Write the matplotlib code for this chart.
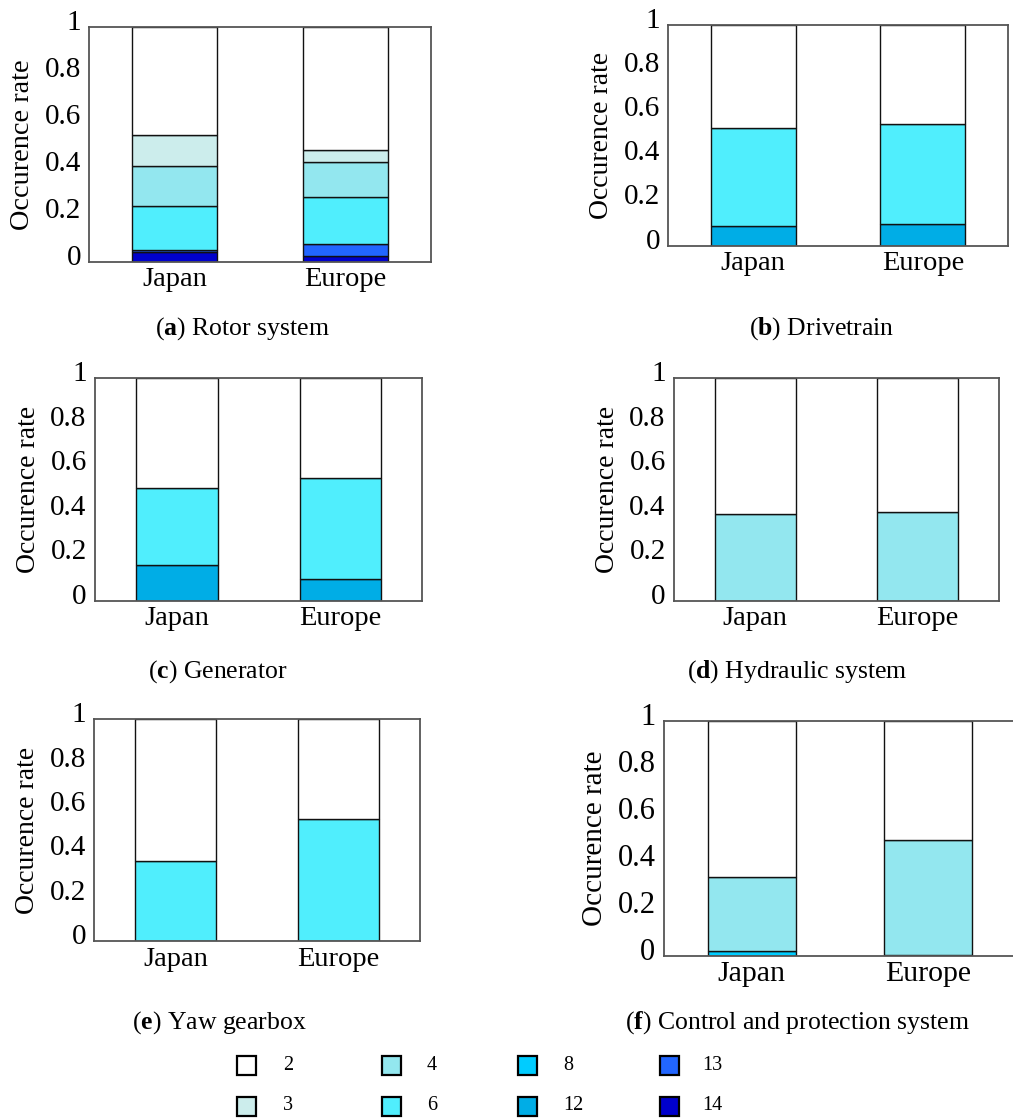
import matplotlib
matplotlib.use("Agg")
import matplotlib.pyplot as plt
import matplotlib.transforms as mtransforms
from matplotlib.patches import Rectangle
import numpy as np

plt.rcParams['font.family'] = ['Liberation Serif', 'DejaVu Serif']
plt.rcParams['mathtext.fontset'] = 'custom'
plt.rcParams['mathtext.rm'] = 'Liberation Serif'
plt.rcParams['mathtext.bf'] = 'Liberation Serif:bold'

# ---- data ----
regions = ['Japan', 'Europe']
categories = ['2', '3', '4', '6', '8', '12', '13', '14']
colors = ['#FFFFFF', '#CCEDEC', '#93E7EF', '#50EEFD', '#00CCFF', '#00ADE6', '#2266FF', '#0000CC']

# values per category (order of `categories`)
rotor_japan      = [0.460, 0.134, 0.168, 0.188, 0.000, 0.000, 0.010, 0.040]
rotor_europe     = [0.526, 0.048, 0.151, 0.201, 0.000, 0.000, 0.048, 0.026]
drive_japan      = [0.469, 0.000, 0.000, 0.442, 0.000, 0.089, 0.000, 0.000]
drive_europe     = [0.449, 0.000, 0.000, 0.451, 0.000, 0.100, 0.000, 0.000]
generator_japan  = [0.495, 0.000, 0.000, 0.346, 0.000, 0.159, 0.000, 0.000]
generator_europe = [0.448, 0.000, 0.000, 0.455, 0.000, 0.097, 0.000, 0.000]
hydraulic_japan  = [0.612, 0.000, 0.388, 0.000, 0.000, 0.000, 0.000, 0.000]
hydraulic_europe = [0.601, 0.000, 0.399, 0.000, 0.000, 0.000, 0.000, 0.000]
yaw_japan        = [0.638, 0.000, 0.000, 0.362, 0.000, 0.000, 0.000, 0.000]
yaw_europe       = [0.449, 0.000, 0.000, 0.551, 0.000, 0.000, 0.000, 0.000]
control_japan    = [0.664, 0.000, 0.315, 0.000, 0.021, 0.000, 0.000, 0.000]
control_europe   = [0.508, 0.000, 0.487, 0.000, 0.005, 0.000, 0.000, 0.000]

panel_letters = ['a', 'b', 'c', 'd', 'e', 'f']
panel_titles = ['Rotor system', 'Drivetrain', 'Generator', 'Hydraulic system',
                'Yaw gearbox', 'Control and protection system']
yticks = [0, 0.2, 0.4, 0.6, 0.8, 1.0]
ytick_labels = ['0', '0.2', '0.4', '0.6', '0.8', '1']

panels = [
    (rotor_japan, rotor_europe),
    (drive_japan, drive_europe),
    (generator_japan, generator_europe),
    (hydraulic_japan, hydraulic_europe),
    (yaw_japan, yaw_europe),
    (control_japan, control_europe),
]

# ---- layout (pixels) ----
W, H = 1013, 1120
fig = plt.figure(figsize=(W / 100, H / 100), dpi=100)

boxes = [  # x0, ytop, x1, ybottom
    (89.3, 26.7, 431.0, 261.7),
    (668.3, 24.7, 1007.7, 245.7),
    (95.0, 378.3, 422.3, 600.7),
    (674.0, 378.3, 999.0, 600.7),
    (94.3, 719.3, 420.0, 941.3),
    (663.8, 720.7, 1015.8, 955.7),
]
ytick_fs = [21, 21, 21, 21, 21, 22]
xtick_fs = [20.5, 20.5, 20.5, 20.5, 20.5, 21.5]
ylab_fs = [20.3, 20, 20, 20, 20, 21]
caption_pos = [(242, 329), (822, 329), (218, 672), (797, 672), (219, 1023), (797, 1023)]

offset = mtransforms.ScaledTranslation(0, 7 / 100, fig.dpi_scale_trans)

for i, (jp, eu) in enumerate(panels):
    x0, yt, x1, yb = boxes[i]
    ax = fig.add_axes([x0 / W, 1 - yb / H, (x1 - x0) / W, (yb - yt) / H])
    xpos = np.arange(len(regions))
    vals = np.array([jp, eu])  # shape (2, ncat)
    bottom = np.zeros(len(regions))
    # stack from darkest (last category) at bottom up to '2' at top
    for k in range(len(categories) - 1, -1, -1):
        h = vals[:, k]
        mask = h > 0
        if mask.any():
            ax.bar(xpos[mask], h[mask], width=0.5, bottom=bottom[mask],
                   color=colors[k], edgecolor='#111111', linewidth=1.0, zorder=2)
        bottom += h
    ax.set_xlim(-0.5, 1.5)
    ax.set_ylim(0, 1)
    ax.set_xticks(xpos)
    ax.set_xticklabels(regions, fontsize=xtick_fs[i])
    ax.set_yticks(yticks)
    ax.set_yticklabels(ytick_labels, fontsize=ytick_fs[i])
    ax.tick_params(length=0, pad=4)
    ax.tick_params(axis='y', pad=6)
    for lab in ax.get_yticklabels():
        lab.set_transform(lab.get_transform() + offset)
    for sp in ax.spines.values():
        sp.set_color('#555555')
        sp.set_linewidth(1.3)
    ax.set_ylabel('Occurence rate', fontsize=ylab_fs[i], labelpad=7)
    cx, cy = caption_pos[i]
    fig.text(cx / W, 1 - cy / H, r'($\mathbf{%s}$) %s' % (panel_letters[i], panel_titles[i]),
             ha='center', va='center', fontsize=18.5)

# ---- legend ----
leg_square_x = [246, 391, 527, 669]
leg_label_x = [283, 427, 563, 702]
leg_row_y = [1065, 1106]
sq = 19
for idx, cat in enumerate(categories):
    col = idx // 2
    row = idx % 2
    cxp = leg_square_x[col]
    cyp = leg_row_y[row]
    rect = Rectangle(((cxp - sq / 2) / W, 1 - (cyp + sq / 2) / H), sq / W, sq / H,
                     transform=fig.transFigure, facecolor=colors[idx],
                     edgecolor='black', linewidth=1.6)
    fig.add_artist(rect)
    fig.text(leg_label_x[col] / W, 1 - cyp / H, cat, ha='left', va='center', fontsize=14.5)

fig.savefig('out.png', dpi=100)
